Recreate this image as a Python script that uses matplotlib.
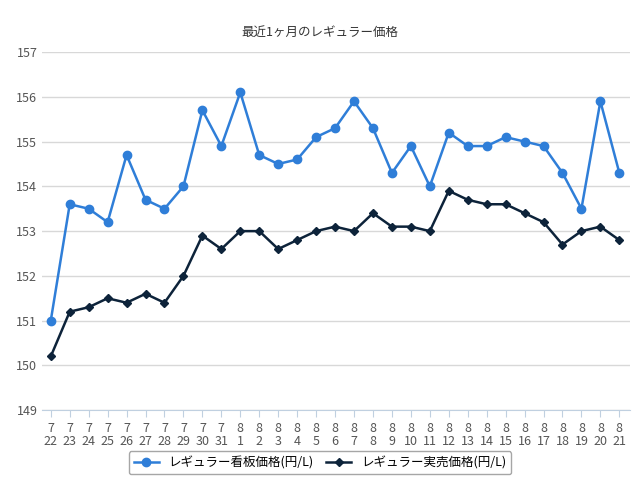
import matplotlib
matplotlib.use("Agg")
import matplotlib.pyplot as plt

plt.rcParams["font.family"] = ["Noto Sans CJK JP"]

months = [7]*10 + [8]*21
days = list(range(22, 32)) + list(range(1, 22))
signboard = [151.0,153.6,153.5,153.2,154.7,153.7,153.5,154.0,155.7,154.9,156.1,154.7,154.5,154.6,155.1,155.3,155.9,155.3,154.3,154.9,154.0,155.2,154.9,154.9,155.1,155.0,154.9,154.3,153.5,155.9,154.3]
actual = [150.2,151.2,151.3,151.5,151.4,151.6,151.4,152.0,152.9,152.6,153.0,153.0,152.6,152.8,153.0,153.1,153.0,153.4,153.1,153.1,153.0,153.9,153.7,153.6,153.6,153.4,153.2,152.7,153.0,153.1,152.8]
labels = [f"{m}\n{d}" for m, d in zip(months, days)]

fig = plt.figure(figsize=(6.4, 4.82), dpi=100)
ax = fig.add_axes([0.066, 0.149, 0.918, 0.743])
x = list(range(len(labels)))
ax.plot(x, signboard, color="#2f7ed8", lw=1.8, marker="o", ms=6, label="レギュラー看板価格(円/L)")
ax.plot(x, actual, color="#0d233a", lw=1.8, marker="D", ms=4.5, label="レギュラー実売価格(円/L)")
ax.set_ylim(149, 157)
ax.set_yticks(range(149, 158))
ax.set_xlim(-0.45, len(labels) - 0.45)
ax.set_xticks(x)
ax.set_xticklabels(labels, fontsize=9, color="#555555", linespacing=1.0)
ax.tick_params(axis="y", labelsize=9, colors="#555555", length=0)
ax.tick_params(axis="x", length=5, color="#c0d0e0")
ax.grid(axis="y", color="#d8d8d8", lw=1)
for s in ["top", "right", "left"]:
    ax.spines[s].set_visible(False)
ax.spines["bottom"].set_color("#c0d0e0")
ax.set_axisbelow(True)
fig.text(0.5, 0.925, "最近1ヶ月のレギュラー価格", ha="center", fontsize=9, color="#333333")
leg = fig.legend(loc="center", bbox_to_anchor=(0.5, 0.04), ncol=2, fontsize=9, frameon=True,
                 edgecolor="#909090", fancybox=True, handlelength=2, columnspacing=1.0)
fig.savefig("out.png", dpi=100)
